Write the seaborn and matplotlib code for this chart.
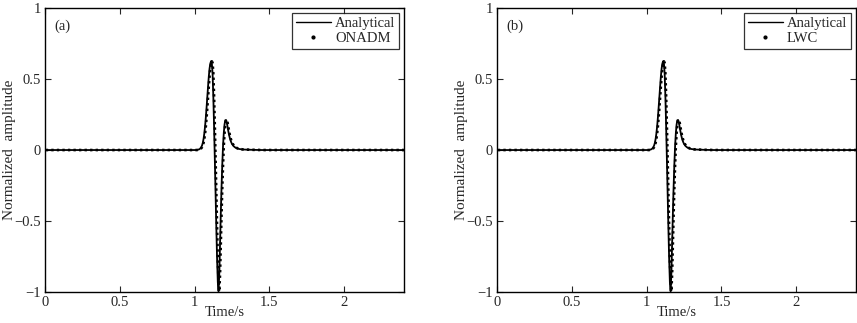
import numpy as np
import pandas as pd
import seaborn as sns
import matplotlib.pyplot as plt
from matplotlib.lines import Line2D

# sample times (s) and normalized amplitudes
time_s = [0.0, 1.000, 1.005, 1.010, 1.015, 1.020, 1.025, 1.030, 1.035, 1.040,
          1.045, 1.050, 1.055, 1.060, 1.065, 1.070, 1.075, 1.080, 1.085, 1.090,
          1.095, 1.100, 1.105, 1.110, 1.115, 1.120, 1.125, 1.130, 1.135, 1.140,
          1.145, 1.150, 1.155, 1.160, 1.165, 1.170, 1.175, 1.180, 1.185, 1.190,
          1.195, 1.200, 1.205, 1.210, 1.215, 1.220, 1.225, 1.230, 1.235, 1.240,
          1.245, 1.250, 1.260, 1.270, 1.280, 1.290, 1.300, 1.320, 1.340, 1.370,
          1.400, 1.450, 2.400]
analytical = [0.0, 0.000, 0.000, 0.000, 0.001, 0.002, 0.003, 0.005, 0.008, 0.013,
              0.021, 0.033, 0.052, 0.080, 0.118, 0.168, 0.230, 0.300, 0.375, 0.450,
              0.520, 0.575, 0.610, 0.625, 0.615, 0.540, 0.380, 0.170, -0.060, -0.300,
              -0.540, -0.760, -0.930, -0.995, -0.870, -0.660, -0.450, -0.260, -0.100, 0.030,
              0.120, 0.180, 0.210, 0.212, 0.195, 0.165, 0.135, 0.108, 0.086, 0.068,
              0.054, 0.043, 0.028, 0.019, 0.013, 0.009, 0.007, 0.004, 0.003, 0.002,
              0.001, 0.000, 0.0]
# numerical solutions overlay the analytical curve, drawn about 0.005 s later
onadm = list(analytical)
lwc = list(analytical)
numeric_lag = 0.005

panels = [("(a)", "ONADM", onadm), ("(b)", "LWC", lwc)]

sns.set_style("ticks")
plt.rcParams['font.family'] = ['Liberation Serif', 'DejaVu Serif']

fig = plt.figure(figsize=(8.57, 3.23), dpi=100)
axes = [fig.add_axes([0.0525, 0.096, 0.419, 0.879]),
        fig.add_axes([0.580, 0.096, 0.419, 0.879])]

for ax, (tag, name, numeric) in zip(axes, panels):
    df = pd.DataFrame({'t': time_s, 'ana': analytical, 'num': numeric})
    df['t_num'] = df['t'] + numeric_lag
    sns.lineplot(data=df, x='t', y='ana', ax=ax, color='black', lw=1.3,
                 estimator=None, sort=False)
    sns.lineplot(data=df, x='t_num', y='num', ax=ax, color='black', lw=1.9,
                 estimator=None, sort=False)
    ax.lines[-1].set_linestyle((0, (0.9, 1.2)))

    ax.set_xlim(0, 2.4)
    ax.set_ylim(-1, 1)
    ax.set_xticks([0, 0.5, 1, 1.5, 2])
    ax.set_xticklabels(['0', '0.5', '1', '1.5', '2'])
    ax.set_yticks([-1, -0.5, 0, 0.5, 1])
    ax.set_yticklabels(['\u22121', '\u22120.5', '0', '0.5', '1'])
    ax.tick_params(direction='in', top=True, right=True, length=4,
                   labelsize=10.5, width=0.8, pad=3)
    for sp in ax.spines.values():
        sp.set_linewidth(1.0)
        sp.set_color('black')
    ax.set_xlabel('Time/s', fontsize=10.5, labelpad=-2)
    ax.set_ylabel('Normalized  amplitude', fontsize=11)
    ax.yaxis.set_label_coords(-0.081, 0.5)
    ax.text(0.025, 0.935, tag, transform=ax.transAxes, fontsize=10.5,
            va='center', ha='left')

    handles = [Line2D([], [], color='black', lw=1.0),
               Line2D([], [], color='black', lw=0, marker='.', markersize=4)]
    leg = ax.legend(handles, ['Analytical', name], loc='upper right',
                    fontsize=10.5, frameon=True, fancybox=False,
                    edgecolor='black', handlelength=2.4, borderpad=0.25,
                    labelspacing=0.15, borderaxespad=0.35, handletextpad=0.3)
    leg.get_frame().set_linewidth(0.9)

fig.savefig('out.png', dpi=100)
